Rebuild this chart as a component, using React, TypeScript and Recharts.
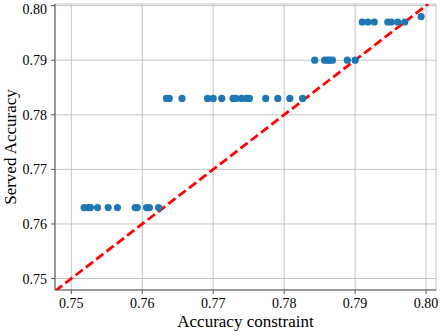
import { ScatterChart, Scatter, XAxis, YAxis, CartesianGrid, ReferenceLine } from "recharts"

// served accuracy levels and the constraints that landed on each
const level763 = [0.7518, 0.7524, 0.7527, 0.7537, 0.7552, 0.7565, 0.759, 0.7593, 0.7606, 0.761, 0.7623]
const level783 = [
  0.7634, 0.7638, 0.7656, 0.7692, 0.77, 0.7712, 0.7728, 0.7732, 0.774, 0.7747, 0.7751, 0.7774, 0.7791,
  0.7808, 0.7826,
]
const level790 = [0.7843, 0.7857, 0.7861, 0.7864, 0.7868, 0.7889, 0.79]
const level797 = [0.791, 0.7918, 0.7927, 0.7946, 0.7951, 0.796, 0.797]
const level798 = [0.7993]

const ticks = [0.75, 0.76, 0.77, 0.78, 0.79, 0.8]
const diagonal = [
  { x: 0.7477, y: 0.7477 },
  { x: 0.8003, y: 0.8003 },
]

const points = [
  ...level763.map((x) => ({ x, y: 0.763 })),
  ...level783.map((x) => ({ x, y: 0.783 })),
  ...level790.map((x) => ({ x, y: 0.79 })),
  ...level797.map((x) => ({ x, y: 0.797 })),
  ...level798.map((x) => ({ x, y: 0.798 })),
]

const font = "Liberation Serif"
const serif = { fontFamily: font, fontSize: 14, fill: "#000" }

const Dot = (props: any) => <circle cx={props.cx} cy={props.cy} r={3.6} fill="#1f77b4" />

function renderXTick(props: any) {
  const { x, y, payload } = props
  return (
    <g>
      <text x={x} y={y + 12} textAnchor="middle" style={serif}>
        {Number(payload.value).toFixed(2)}
      </text>
    </g>
  )
}

function renderYTick(props: any) {
  const { x, y, payload } = props
  return (
    <g>
      <text x={x - 2} y={y + 5} textAnchor="end" style={serif}>
        {Number(payload.value).toFixed(2)}
      </text>
    </g>
  )
}

export default function App() {
  return (
    <div style={{ position: "absolute", left: 0, top: 0, background: "#fff", fontFamily: font }}>
      <ScatterChart width={440} height={332} margin={{ top: 4, right: 4, bottom: 0, left: 0 }} style={{ fontFamily: font }}>
        <CartesianGrid stroke="#c4c4c4" strokeWidth={1} />
        <XAxis
          type="number"
          dataKey="x"
          domain={[0.7477, 0.8014]}
          ticks={ticks}
          height={42}
          tick={renderXTick}
          tickSize={4}
          stroke="#555"
          allowDataOverflow
          label={{ value: "Accuracy constraint", position: "insideBottom", offset: 5, style: { fontFamily: font, fontSize: 17, fill: "#000" } }}
        />
        <YAxis
          type="number"
          dataKey="y"
          domain={[0.7479, 0.8003]}
          ticks={ticks}
          width={55}
          tick={renderYTick}
          tickSize={4}
          stroke="#555"
          allowDataOverflow
          label={{ value: "Served Accuracy", angle: -90, position: "insideLeft", offset: 10, style: { fontFamily: font, fontSize: 17, fill: "#000", textAnchor: "middle" } }}
        />
        <XAxis xAxisId="top" orientation="top" type="number" domain={[0.7477, 0.8014]} height={0} tick={false} tickLine={false} stroke="#222" />
        <YAxis yAxisId="right" orientation="right" type="number" domain={[0.7479, 0.8003]} width={0} tick={false} tickLine={false} stroke="#222" />
        <Scatter data={points} shape={Dot} isAnimationActive={false} />
        <ReferenceLine segment={diagonal} stroke="#ff0000" strokeWidth={2.8} strokeDasharray="9 4" ifOverflow="hidden" />
      </ScatterChart>
    </div>
  )
}
